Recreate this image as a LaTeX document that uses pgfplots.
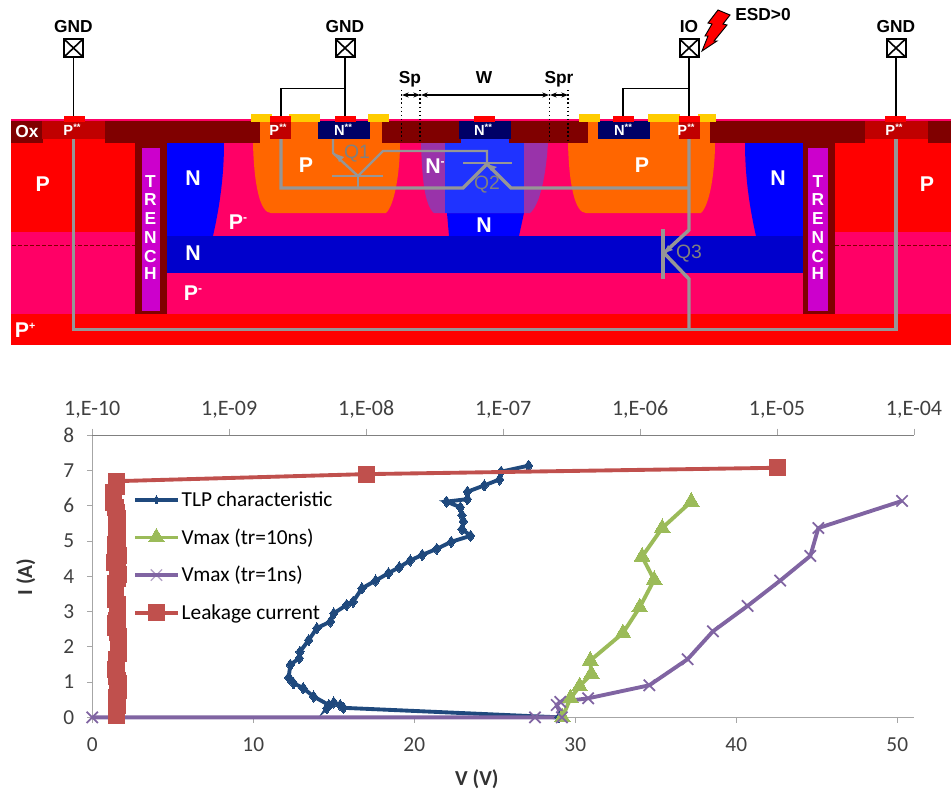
\documentclass[border=0pt]{standalone}
\usepackage{fontspec}
\usepackage{pgfplots}
\pgfplotsset{compat=1.18}
\usetikzlibrary{arrows.meta}
\setmainfont{Carlito}
\newfontfamily\arial{Liberation Sans}
\definecolor{cP}{HTML}{FF0000}
\definecolor{cPm}{HTML}{FF0066}
\definecolor{cOx}{HTML}{800000}
\definecolor{cPpp}{HTML}{C00000}
\definecolor{cN}{HTML}{0000FF}
\definecolor{cNb}{HTML}{0000CC}
\definecolor{cNl}{HTML}{1F33FF}
\definecolor{cNm}{HTML}{9933AA}
\definecolor{cNpp}{HTML}{000066}
\definecolor{cWell}{HTML}{FF6600}
\definecolor{cY}{HTML}{FFCC00}
\definecolor{cTr}{HTML}{CC00CC}
\definecolor{cW}{HTML}{969696}
\definecolor{sBlue}{HTML}{1F497D}
\definecolor{sGreen}{HTML}{9BBB59}
\definecolor{sPurple}{HTML}{8064A2}
\definecolor{sRed}{HTML}{C0504D}
\definecolor{tickc}{HTML}{404040}
\newcommand{\lab}[4][]{\node[text=white,font=\arial\bfseries\fontsize{#4}{#4}\selectfont,inner sep=0pt,#1] at (#2) {#3};}
\newcommand{\pad}[2]{%
  \draw[black,line width=1.5pt,fill=white] (#1-9.5,39) rectangle (#1+9.5,57);
  \draw[black,line width=1.2pt] (#1-9.5,39) -- (#1+9.5,57) (#1-9.5,57) -- (#1+9.5,39);
  \node[font=\arial\bfseries\fontsize{13}{14}\selectfont,inner sep=0pt] at (#1,27) {#2};}
\newcommand{\ct}[1]{\fill[cP] (#1,116) rectangle (#1+21,122);}
\newcommand{\ye}[2]{\fill[cY] (#1,114) rectangle (#2,122);}
\begin{document}
\begin{tikzpicture}
\begin{scope}[x=0.75pt,y=-0.75pt]
\path[use as bounding box] (0,0) rectangle (951,793);
% substrate
\fill[cP] (11,314) rectangle (951,345);
\fill[cPm] (11,143) rectangle (951,314);
\fill[cP] (11,143) rectangle (136,232);
\fill[cP] (833,143) rectangle (951,232);
\draw[cOx,line width=0.6pt,dash pattern=on 3pt off 1.5pt] (12,245) -- (135,245) (835,245) -- (951,245);
% left / right N
\fill[cN] (167,143) -- (224,143) .. controls (224,175) and (220,205) .. (213,236) -- (167,236) -- cycle;
\fill[cN] (745,143) .. controls (745,175) and (749,205) .. (756,236) -- (803,236) -- (803,143) -- cycle;
% centre N
\fill[cN] (447,213) -- (524,213) -- (519,236) -- (449,236) -- cycle;
\fill[cNm] (421,143) .. controls (422,175) and (424,205) .. (434,213) -- (530,213) .. controls (540,205) and (546,175) .. (548,143) -- cycle;
\fill[cNl] (445,139) rectangle (524,213);
% wells
\fill[cWell] (253,120) -- (253,143) .. controls (254,185) and (260,213) .. (271,213) -- (386,213) .. controls (395,205) and (400,170) .. (400,143) -- (400,120) -- cycle;
\fill[cWell] (568,120) -- (568,143) .. controls (569,185) and (575,213) .. (586,213) -- (701,213) .. controls (710,205) and (715,170) .. (715,143) -- (715,120) -- cycle;
% buried layer
\fill[cNb] (167,235.5) rectangle (803,273);
% top line + oxide
\fill[cPm] (11,118.5) rectangle (951,121);
\fill[cOx] (11,120.5) rectangle (43,143);
\fill[cOx] (104,120.5) rectangle (260,143);
\fill[cOx] (382,120.5) rectangle (461,143);
\fill[cOx] (509,120.5) rectangle (588,143);
\fill[cOx] (710,120.5) rectangle (866,143);
\fill[cOx] (927,120.5) rectangle (951,143);
\fill[cP] (43,120.5) rectangle (105,143);
\fill[cP] (865,120.5) rectangle (928,143);
% heavy doped
\fill[cPpp] (42,120.5) rectangle (105,139);
\fill[cPpp] (865,120.5) rectangle (928,139);
\fill[cPpp] (270,120.5) rectangle (291,139);
\fill[cPpp] (679,120.5) rectangle (700,139);
\fill[cNpp] (318,120.5) rectangle (370,139);
\fill[cNpp] (459,120.5) rectangle (511,139);
\fill[cNpp] (598,120.5) rectangle (650,139);
% trenches
\fill[cOx] (135,143) rectangle (167,314);
\fill[cOx] (803,143) rectangle (835,314);
\fill[cTr] (141.5,148) rectangle (160,311);
\fill[cTr] (808,148) rectangle (828,311);
% contacts and metal
\ye{251}{272}\ye{289}{320}\ye{368}{389}\ye{579}{600}\ye{648}{680}\ye{698}{716}
\ct{64}\ct{270}\ct{335}\ct{474}\ct{613}\ct{679}\ct{885}
% gray wires
\begin{scope}[cW,line width=2.6pt,line join=miter]
\draw (73.5,139) -- (73.5,329.5) -- (896,329.5) -- (896,139);
\draw (281,139) -- (281,188) -- (463,188) -- (487,164);
\draw (487,164) -- (511,188) -- (689,188);
\draw (689,139) -- (689,230) -- (664,253) -- (689,279) -- (689,329.5);
\end{scope}
\begin{scope}[cW,line width=1.8pt]
\draw (333,139) -- (333,153) -- (358,176) -- (383,151) -- (487,151) -- (487,163);
\draw (358,176) -- (358,188);
\draw (332,176) -- (383,176);
\draw (463,163) -- (512,163);
\end{scope}
\draw[cW,line width=2.6pt] (663,229) -- (663,279);
\fill[cW] (336,154) -- (344,157) -- (339,162) -- cycle;
\fill[cW] (487,164) -- (497,167) -- (491,171) -- cycle;
\fill[cW] (664,253) -- (668,245) -- (673,250) -- cycle;
\node[text=cW!85!black,font=\arial\fontsize{14.5}{15}\selectfont,inner sep=0pt] at (357,154) {Q1};
\node[text=cW!85!black,font=\arial\fontsize{14.5}{15}\selectfont,inner sep=0pt] at (487,185) {Q2};
\node[text=cW!85!black,font=\arial\fontsize{14.5}{15}\selectfont,inner sep=0pt] at (689,254) {Q3};
% region labels
\lab{42.7,184}{P}{16}
\lab{193,178}{N}{16}
\lab{238,222}{P\raisebox{0.35em}{\fontsize{9}{9}\selectfont -}}{16}
\lab{193,253}{N}{16}
\lab{193,293}{P\raisebox{0.35em}{\fontsize{9}{9}\selectfont -}}{16}
\lab{306,165}{P}{16}
\lab{435,166}{N\raisebox{0.35em}{\fontsize{9}{9}\selectfont -}}{16}
\lab{484,225}{N}{16}
\lab{642,165}{P}{16}
\lab{778,178}{N}{16}
\lab{927,184}{P}{16}
\lab{25,330}{P\raisebox{0.35em}{\fontsize{8}{8}\selectfont +}}{16}
\lab{27,132}{Ox}{13}
\lab{72,130}{P\raisebox{0.35em}{\fontsize{7}{7}\selectfont **}}{11}
\lab{278,130}{P\raisebox{0.35em}{\fontsize{7}{7}\selectfont **}}{11}
\lab{343,130}{N\raisebox{0.35em}{\fontsize{7}{7}\selectfont **}}{11}
\lab{483,130}{N\raisebox{0.35em}{\fontsize{7}{7}\selectfont **}}{11}
\lab{623,130}{N\raisebox{0.35em}{\fontsize{7}{7}\selectfont **}}{11}
\lab{686,130}{P\raisebox{0.35em}{\fontsize{7}{7}\selectfont **}}{11}
\lab{894,130}{P\raisebox{0.35em}{\fontsize{7}{7}\selectfont **}}{11}
\foreach \c/\y in {T/182,R/200,E/219,N/238,C/257,H/274}{
  \lab{150.5,\y}{\c}{13}
  \lab{818,\y}{\c}{13}
}
% pads and black wires
\draw[black,line width=1.1pt] (73.5,57) -- (73.5,116);
\draw[black,line width=1.1pt] (345,57) -- (345,116) (345,88.5) -- (281,88.5) -- (281,116);
\draw[black,line width=1.1pt] (689,57) -- (689,116) (689,88.5) -- (623,88.5) -- (623,116);
\draw[black,line width=1.1pt] (896,57) -- (896,116);
\pad{73.5}{GND}\pad{345}{GND}\pad{689}{IO}\pad{896}{GND}
% bolt
\draw[black,fill=cP,line width=0.7pt] (718,10) -- (730,15) -- (723,24) -- (727,25) -- (714,41) -- (717,41) -- (702,51) -- (708,36) -- (705,36) -- (712,24) -- (708,23) -- cycle;
\node[anchor=west,font=\arial\bfseries\fontsize{13}{14}\selectfont,inner sep=0pt] at (735,15) {ESD>0};
% dimensions
\draw[black,line width=1.1pt,dotted] (401.5,90) -- (401.5,143) (420,90) -- (420,143) (549.5,90) -- (549.5,143) (568,90) -- (568,143);
\draw[black,line width=1.2pt,{Stealth[length=5pt]}-{Stealth[length=5pt]}] (402,95) -- (420,95);
\draw[black,line width=1.2pt,{Stealth[length=5pt]}-{Stealth[length=5pt]}] (421,95) -- (549,95);
\draw[black,line width=1.2pt,{Stealth[length=5pt]}-{Stealth[length=5pt]}] (550,95) -- (568,95);
\node[font=\arial\bfseries\fontsize{13}{14}\selectfont,inner sep=0pt] at (410,79) {Sp};
\node[font=\arial\bfseries\fontsize{13}{14}\selectfont,inner sep=0pt] at (484,78) {W};
\node[font=\arial\bfseries\fontsize{13}{14}\selectfont,inner sep=0pt] at (559,79) {Spr};
\end{scope}
% main chart: V axis
\begin{axis}[
  name=main, at={(69.2pt,-538pt)}, anchor=south west,
  scale only axis, width=616.3pt, height=211.5pt,
  xmin=0, xmax=51.04, ymin=0, ymax=8,
  axis x line*=bottom, axis y line*=left,
  axis line style={draw=black!35,-,line width=0.6pt},
  tick align=outside, major tick length=4pt,
  tick style={draw=black!35,line width=0.6pt},
  xtick={0,10,20,30,40,50}, ytick={0,1,2,3,4,5,6,7,8},
  /pgf/number format/assume math mode=true,
  tick label style={font=\fontsize{16}{18}\selectfont,text=tickc},
  xticklabel style={yshift=-8pt},
  yticklabel style={xshift=-6pt},
  clip=false,
  xlabel={V (V)}, ylabel={I (A)},
  x label style={at={(axis description cs:0.468,-0.219)},anchor=center,font=\bfseries\fontsize{16}{18}\selectfont,text=black!80},
  y label style={at={(axis description cs:-0.081,0.4975)},anchor=center,rotate=0,font=\bfseries\fontsize{16}{18}\selectfont,text=black!80},
]
% TLP characteristic
\addplot[sBlue,line width=2.9pt,mark=diamond*,mark size=4.2pt,mark options={solid,line width=0pt}] coordinates {
(29,0)(15.6,0.27)(15.4,0.35)(15.0,0.42)(14.57,0.26)(14.7,0.35)(13.75,0.59)(13.1,0.83)(12.5,0.97)(12.2,1.13)(12.3,1.49)(12.86,1.68)(12.9,1.86)(13.44,2.19)(13.95,2.53)(14.8,2.72)(15.0,2.95)(15.8,3.19)(16.2,3.28)(16.75,3.66)(17.6,3.88)(18.4,4.09)(19.07,4.26)(19.75,4.45)(20.5,4.61)(21.4,4.78)(22.3,4.98)(23.5,5.15)(22.96,5.34)(23.05,5.56)(22.96,5.74)(22.86,5.96)(22.0,6.12)(23.3,6.19)(23.3,6.4)(24.35,6.58)(25.3,6.75)(25.4,6.97)(27.1,7.14)};
% Vmax 10 ns
\addplot[sGreen,line width=2.9pt,mark=triangle*,mark size=6.8pt,mark options={solid,line width=0pt}] coordinates {
(29.2,0)(29.7,0.54)(30.27,0.88)(31,1.23)(30.93,1.61)(32.96,2.39)(34,3.12)(34.9,3.9)(34.15,4.56)(35.4,5.37)(37.2,6.12)};
% Vmax 1 ns
\addplot[sPurple,line width=2.9pt,mark=x,mark size=6pt,mark options={solid,line width=1.3pt}] coordinates {
(0,0)(27.5,0)(29.17,0)(28.85,0.35)(29.07,0.44)(30.8,0.54)(34.6,0.91)(36.98,1.65)(38.55,2.44)(40.7,3.16)(42.73,3.88)(44.6,4.58)(45.1,5.37)(50.3,6.14)};
\end{axis}
% leakage current: log current axis on top
\begin{axis}[
  at={(69.2pt,-538pt)}, anchor=south west,
  scale only axis, width=616.3pt, height=211.5pt,
  xmode=log, xmin=1e-10, xmax=1e-4, ymin=0, ymax=8,
  axis x line*=top, axis y line=none,
  axis line style={draw=black!50,-,line width=0.7pt},
  tick align=outside, major tick length=5pt, minor tick length=0pt,
  tick style={draw=black!35,line width=0.6pt},
  xtick={1e-10,1e-9,1e-8,1e-7,1e-6,1e-5,1e-4},
  xticklabels={{1,E-10},{1,E-09},{1,E-08},{1,E-07},{1,E-06},{1,E-05},{1,E-04}},
  tick label style={font=\fontsize{16.5}{18}\selectfont,text=tickc},
  xticklabel style={yshift=4pt},
  clip=false,
  legend image code/.code={\path[draw=none,fill=none] (0pt,-8pt) rectangle (32pt,8pt);\draw[mark repeat=2,mark phase=2,#1] plot coordinates {(0pt,0pt)(16pt,0pt)(32pt,0pt)};},
  legend style={at={(axis cs:1.98e-10,6.48)},anchor=north west,draw=none,fill=none,
    font=\fontsize{16}{18}\selectfont,row sep=12.2pt,column sep=1.5pt,inner sep=0pt,
    nodes={inner sep=0pt}},
  legend cell align=left,
]
\addlegendimage{sBlue,line width=2.9pt,mark=diamond*,mark size=3pt,mark options={solid,line width=0pt}}
\addlegendimage{sGreen,line width=2.9pt,mark=triangle*,mark size=6.8pt,mark options={solid,line width=0pt}}
\addlegendimage{sPurple,line width=2.9pt,mark=x,mark size=6pt,mark options={solid,line width=1pt,opacity=0.6}}
\addplot[sRed,line width=2.9pt,mark=square*,mark size=6pt,mark options={solid,line width=0pt}] coordinates {
(1.50e-10,0.05)(1.51e-10,0.15)(1.50e-10,0.25)(1.52e-10,0.35)(1.50e-10,0.45)(1.51e-10,0.55)(1.52e-10,0.65)(1.55e-10,0.75)(1.54e-10,0.85)(1.55e-10,0.95)(1.52e-10,1.05)(1.51e-10,1.15)(1.50e-10,1.25)(1.49e-10,1.35)(1.50e-10,1.45)(1.50e-10,1.55)(1.51e-10,1.65)(1.55e-10,1.8)(1.56e-10,1.9)(1.55e-10,2.0)(1.56e-10,2.1)(1.55e-10,2.2)(1.55e-10,2.3)(1.54e-10,2.4)(1.47e-10,2.55)(1.48e-10,2.65)(1.50e-10,2.75)(1.52e-10,2.9)(1.52e-10,3.0)(1.53e-10,3.1)(1.52e-10,3.2)(1.48e-10,3.35)(1.47e-10,3.5)(1.48e-10,3.65)(1.49e-10,3.8)(1.53e-10,3.95)(1.55e-10,4.05)(1.53e-10,4.2)(1.52e-10,4.3)(1.46e-10,4.4)(1.48e-10,4.5)(1.55e-10,4.6)(1.54e-10,4.75)(1.49e-10,4.9)(1.50e-10,5.0)(1.52e-10,5.1)(1.51e-10,5.2)(1.52e-10,5.35)(1.50e-10,5.5)(1.52e-10,5.65)(1.51e-10,5.8)(1.47e-10,5.95)(1.44e-10,6.1)(1.43e-10,6.25)(1.43e-10,6.38)(1.50e-10,6.55)(1.51e-10,6.7)(1e-8,6.9)(1e-5,7.08)};
\legend{TLP characteristic,Vmax (tr=10ns),Vmax (tr=1ns),Leakage current}
\end{axis}
\end{tikzpicture}
\end{document}
